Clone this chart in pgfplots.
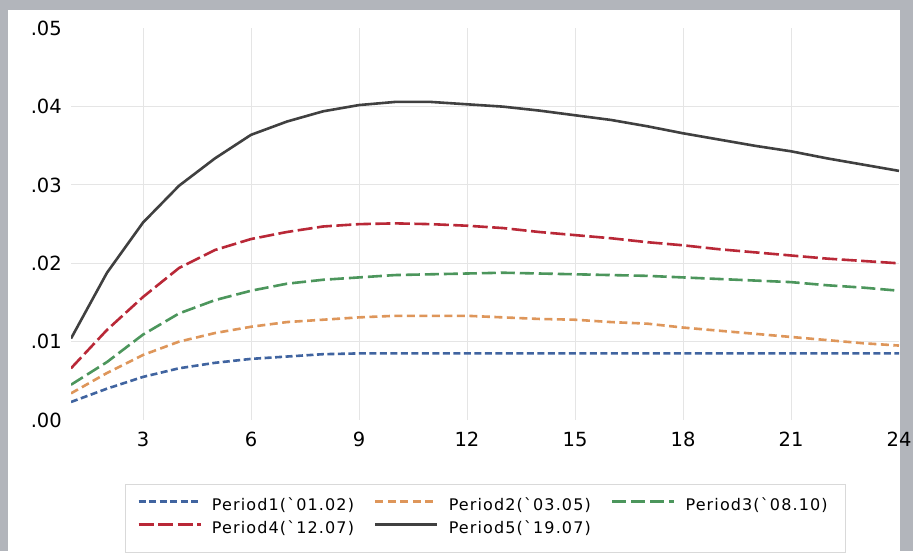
\documentclass[border=0pt]{standalone}
\usepackage{pgfplots}
\pgfplotsset{compat=1.18}
\usepackage{fontspec}
\setmainfont{DejaVu Sans}
\newfontfamily\legfont[LetterSpace=7]{DejaVu Sans}
\definecolor{cBlue}{RGB}{64,100,160}
\definecolor{cOrange}{RGB}{222,150,90}
\definecolor{cGreen}{RGB}{76,150,92}
\definecolor{cRed}{RGB}{185,40,55}
\definecolor{cBlack}{RGB}{64,64,64}
\definecolor{frameGray}{RGB}{178,181,187}
\pgfplotstableread{
x p1 p2 p3 p4 p5
1 .0023 .0034 .0045 .0066 .0104
2 .0040 .0060 .0074 .0115 .0188
3 .0055 .0083 .0109 .0157 .0252
4 .0066 .0100 .0136 .0194 .0299
5 .0073 .0111 .0153 .0217 .0334
6 .0078 .0119 .0165 .0231 .0364
7 .0081 .0125 .0174 .0240 .0381
8 .0084 .0128 .0179 .0247 .0394
9 .0085 .0131 .0182 .0250 .0402
10 .0085 .0133 .0185 .0251 .0406
11 .0085 .0133 .0186 .0250 .0406
12 .0085 .0133 .0187 .0248 .0403
13 .0085 .0131 .0188 .0245 .0400
14 .0085 .0129 .0187 .0240 .0395
15 .0085 .0128 .0186 .0236 .0389
16 .0085 .0125 .0185 .0232 .0383
17 .0085 .0123 .0184 .0227 .0375
18 .0085 .0118 .0182 .0223 .0366
19 .0085 .0114 .0180 .0218 .0358
20 .0085 .0110 .0178 .0214 .0350
21 .0085 .0106 .0176 .0210 .0343
22 .0085 .0102 .0172 .0206 .0334
23 .0085 .0098 .0169 .0203 .0326
24 .0085 .0095 .0165 .0200 .0318
}\datatable
\begin{document}
\begin{tikzpicture}[x=1pt,y=1pt]
\fill[frameGray] (0,0) rectangle (913,551);
\fill[white] (8,0) rectangle (900,541);
\begin{axis}[
  at={(71pt,131pt)}, anchor=south west,
  scale only axis, width=828pt, height=391.7pt,
  xmin=1, xmax=24, ymin=0, ymax=0.05,
  scaled y ticks=false,
  axis line style={draw=none},
  major tick length=0pt,
  xtick={3,6,...,21}, extra x ticks={24}, extra x tick style={grid=none},
  ytick={0.01,0.02,0.03,0.04}, yticklabels={.01,.02,.03,.04},
  extra y ticks={0,0.05}, extra y tick labels={.00,.05}, extra y tick style={grid=none},
  grid=major, major grid style={color=black!10, line width=1pt},
  /pgf/number format/assume math mode=true,
  tick label style={font=\fontsize{19.5}{24}\selectfont, text=black},
  yticklabel style={anchor=east, inner sep=0pt, xshift=-9pt},
  xticklabel style={anchor=north, inner sep=0pt, yshift=-12pt},
  legend columns=3,
  legend cell align=left,
  legend image code/.code={\draw[#1] (0pt,5pt) -- (62pt,5pt);},
  every legend image post/.append style={line width=2.8pt},
  legend style={at={(0.0652,-0.1634)}, anchor=north west,
    draw=black!15, fill=white,
    font=\legfont\fontsize{16}{16}\selectfont,
    inner xsep=12pt, inner ysep=15pt, row sep=8pt,
    nodes={inner sep=0pt, text height=11pt, text depth=4pt},
    /tikz/every odd column/.append style={column sep=10pt},
    /tikz/every even column/.append style={column sep=14pt}},
]
\addplot[cBlue, line width=2.6pt, dash pattern=on 7pt off 3.5pt] table[x=x,y=p1]{\datatable};
\addlegendentry{\makebox[148pt][l]{Period1(`01.02)}}
\addplot[cOrange, line width=2.6pt, dash pattern=on 8pt off 4.5pt] table[x=x,y=p2]{\datatable};
\addlegendentry{\makebox[148pt][l]{Period2(`03.05)}}
\addplot[cGreen, line width=2.6pt, dash pattern=on 14pt off 5pt] table[x=x,y=p3]{\datatable};
\addlegendentry{\makebox[148pt][l]{Period3(`08.10)}}
\addplot[cRed, line width=2.6pt, dash pattern=on 15pt off 4.5pt] table[x=x,y=p4]{\datatable};
\addlegendentry{\makebox[148pt][l]{Period4(`12.07)}}
\addplot[cBlack, line width=2.6pt] table[x=x,y=p5]{\datatable};
\addlegendentry{\makebox[148pt][l]{Period5(`19.07)}}
\end{axis}
\end{tikzpicture}
\end{document}
